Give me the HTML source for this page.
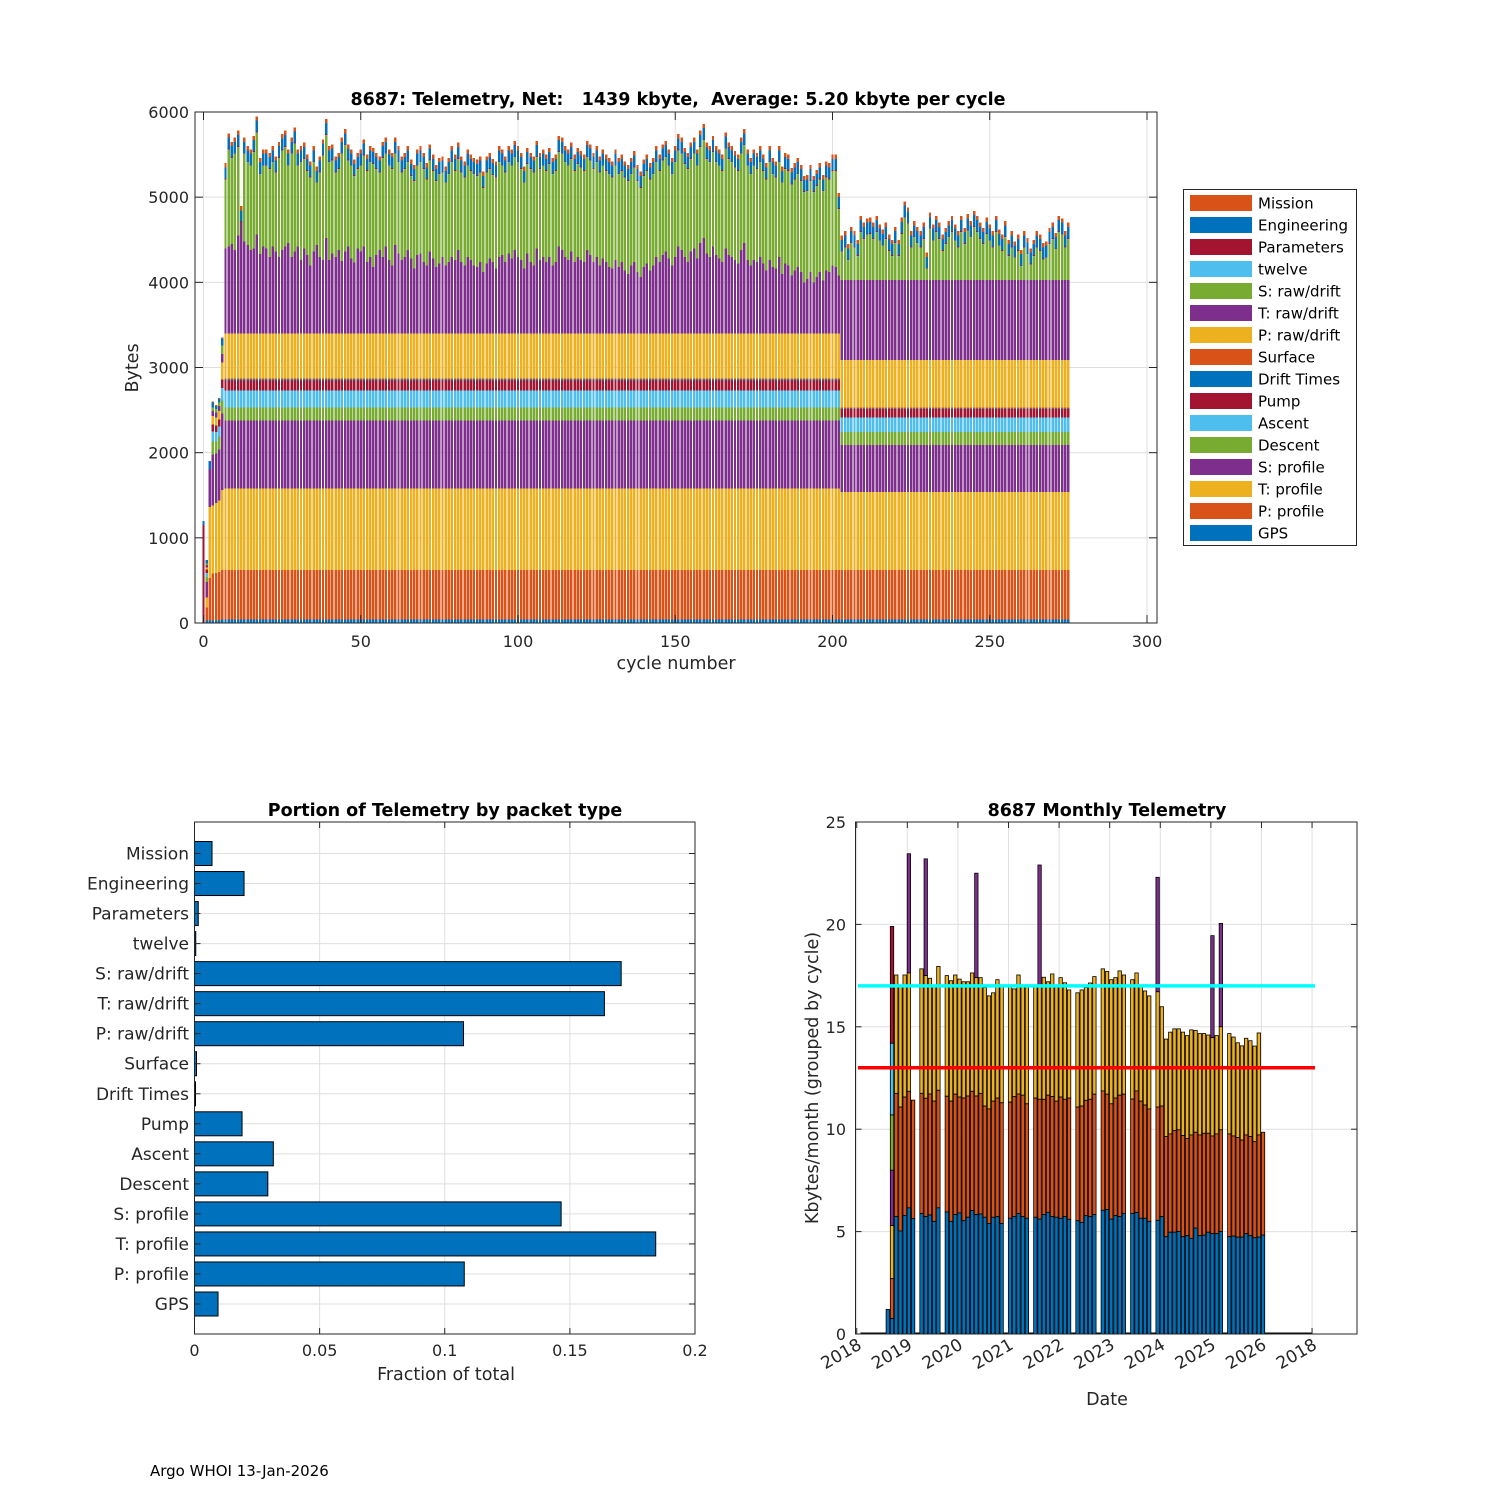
<!DOCTYPE html>
<html><head><meta charset="utf-8">
<style>
html,body{margin:0;padding:0;background:#fff;}
svg{display:block;font-family:"DejaVu Sans","Liberation Sans",sans-serif;}
.pre{white-space:pre;}
</style></head>
<body>
<svg id="fig" width="1500" height="1500" viewBox="0 0 1500 1500" xmlns="http://www.w3.org/2000/svg">
<rect x="0" y="0" width="1500" height="1500" fill="#fff"/>
<g id="top"></g>
<g id="hbar"></g>
<g id="month"></g>
<text x="150" y="1476" font-size="15" fill="#000">Argo WHOI 13-Jan-2026</text>
</svg>
<script>
// ---------- TOP CHART DATA ----------
const layerNames = ["GPS","P: profile","T: profile","S: profile","Descent","Ascent","Pump","Drift Times","Surface","P: raw/drift","T: raw/drift","S: raw/drift","twelve","Parameters","Engineering","Mission"];
const earlyLayers = [
 [0,0,0,0,0,0,1150,0,0,0,0,0,0,0,50,0],
 [30,150,120,180,60,50,40,0,0,20,30,20,0,0,40,0],
 [30,500,830,450,0,0,0,0,0,0,0,0,0,0,90,0],
 [30,550,800,600,150,120,80,0,0,100,60,40,0,0,60,10],
 [30,560,820,580,140,110,80,0,0,90,60,40,0,0,40,10],
 [30,570,840,600,150,120,80,0,0,100,60,40,0,0,40,10],
 [40,580,940,900,150,150,100,0,0,200,100,100,0,0,80,10]
];
const eraALayers = [40,580,960,800,150,200,120,10,10,530,900,null,5,10,130,50];
const eraBLayers = [40,580,920,550,155,170,95,10,10,560,940,null,5,10,130,50];
const eraATotals = [5400,5750,5650,
5700,5780,4850,5700,5600,5560,5720,5950,5460,5560,
5560,5520,5600,5480,5650,5740,5780,5560,5700,5820,
5560,5600,5640,5500,5420,5600,5360,5480,5680,5920,
5600,5620,5480,5520,5700,5800,5620,5560,5440,5520,
5560,5680,5500,5600,5580,5520,5480,5650,5700,5560,
5520,5700,5600,5480,5520,5600,5440,5380,5560,5600,
5520,5400,5620,5500,5380,5460,5480,5360,5460,5600,
5500,5640,5480,5420,5560,5500,5460,5440,5480,5300,
5480,5520,5450,5420,5600,5560,5480,5600,5560,5660,
5600,5520,5360,5580,5520,5480,5660,5520,5560,5500,
5580,5460,5500,5720,5700,5600,5560,5640,5500,5580,
5540,5500,5660,5620,5520,5600,5480,5560,5500,5460,
5420,5560,5460,5500,5420,5380,5460,5540,5380,5300,
5440,5500,5400,5460,5600,5500,5620,5660,5560,5460,
5600,5740,5700,5580,5520,5640,5700,5560,5780,5860,
5640,5600,5720,5600,5560,5500,5760,5640,5600,5540,
5500,5700,5800,5560,5460,5560,5520,5600,5500,5400,
5600,5460,5420,5600,5360,5520,5500,5340,5400,5460,
5380,5250,5260,5380,5250,5320,5400,5260,5420,5400,
5500,5500,5050];
// top of T: raw/drift layer (bottom of S: raw/drift), era A
const eraATRawTop = [4400,4420,4450,
4380,4550,4700,4480,4440,4380,4400,4560,4330,4420,
4400,4300,4420,4360,4300,4380,4420,4460,4300,4360,
4420,4260,4400,4320,4200,4360,4440,4300,4260,4520,
4260,4340,4300,4380,4250,4360,4420,4280,4230,4400,
4360,4420,4240,4300,4180,4320,4380,4300,4420,4260,
4200,4440,4340,4260,4300,4380,4280,4160,4320,4340,
4240,4200,4360,4280,4180,4220,4300,4200,4240,4300,
4260,4380,4240,4200,4300,4260,4200,4180,4240,4120,
4220,4280,4240,4160,4300,4320,4240,4340,4280,4380,
4300,4260,4160,4340,4240,4200,4400,4260,4300,4240,
4300,4200,4240,4420,4380,4300,4260,4360,4240,4300,
4260,4240,4380,4320,4240,4300,4200,4280,4240,4180,
4160,4260,4180,4240,4140,4100,4200,4240,4120,4060,
4180,4220,4140,4200,4300,4240,4320,4360,4280,4200,
4300,4420,4380,4300,4240,4360,4400,4280,4460,4520,
4340,4300,4420,4320,4280,4240,4400,4320,4300,4260,
4220,4380,4460,4260,4200,4260,4240,4300,4220,4140,
4260,4180,4160,4300,4100,4220,4200,4080,4140,4180,
4120,4000,4040,4120,4000,4060,4120,4020,4140,4120,
4200,4180,4080];
const eraBTotals = [4550,4600,4450,4650,4600,4500,4780,4700,
4750,4760,4700,4780,4680,4620,4700,4560,4500,4650,
4500,4760,4950,4880,4600,4720,4650,4600,4700,4350,
4820,4680,4780,4700,4560,4640,4720,4780,4680,4600,
4780,4640,4800,4720,4840,4780,4700,4640,4760,4680,
4600,4780,4620,4560,4720,4500,4600,4480,4560,4380,
4600,4520,4400,4500,4600,4560,4460,4480,4640,4700,
4580,4780,4750,4600,4700];
const topXTicks = [0,50,100,150,200,250,300];
const topYTicks = [0,1000,2000,3000,4000,5000,6000];

// ---------- HBAR DATA ----------
const hbarCats = ["Mission","Engineering","Parameters","twelve","S: raw/drift","T: raw/drift","P: raw/drift","Surface","Drift Times","Pump","Ascent","Descent","S: profile","T: profile","P: profile","GPS"];
const hbarVals = [0.007,0.0198,0.0015,0.0005,0.1705,0.1638,0.1075,0.0008,0.0004,0.0190,0.0315,0.0293,0.1465,0.1843,0.1078,0.0094];
const hbarXTicks = [0,0.05,0.1,0.15,0.2];
const hbarXLabels = ["0","0.05","0.1","0.15","0.2"];

// ---------- MONTHLY DATA ----------
const mBlue   = [1.2,0.75,5.73,5.03,5.78,6.16,5.63,0,5.88,5.73,5.81,5.50,6.16,0,5.96,5.50,5.83,5.91,5.53,5.70,6.03,5.83,5.86,5.70,5.40,5.70,5.73,5.40,0,5.65,5.73,5.89,5.73,5.65,0,5.70,5.61,5.83,5.94,5.73,5.70,5.65,5.73,5.60,0,5.53,5.45,5.78,5.73,5.83,0,6.04,6.08,5.61,5.78,5.73,5.89,0,5.89,5.93,5.65,5.65,5.50,0,5.55,5.73,4.75,4.97,4.97,5.00,4.75,4.80,4.67,5.17,4.80,4.83,4.97,4.90,4.90,5.00,0,4.75,4.78,4.73,4.73,4.90,4.80,4.70,4.73,4.83];
const mOrange = [1.2,2.7,11.75,11.08,11.57,11.85,11.42,0,11.75,11.51,11.72,11.37,11.90,0,11.61,11.37,11.71,11.57,11.52,11.62,11.85,11.62,11.75,11.13,10.99,11.37,11.52,11.29,0,11.32,11.59,11.72,11.66,11.24,0,11.52,11.46,11.46,11.66,11.59,11.37,11.57,11.46,11.52,0,11.08,11.13,11.41,11.46,11.71,0,11.87,11.71,11.24,11.52,11.66,11.71,0,11.47,11.87,11.37,11.18,10.99,0,11.08,11.13,9.64,9.77,9.93,9.97,9.69,9.55,9.72,9.85,9.72,9.80,9.80,9.67,9.77,9.97,0,9.77,9.67,9.59,9.47,9.72,9.64,9.39,9.72,9.85];
const mYellow = [1.2,5.3,17.53,17.04,17.53,17.63,11.42,0,17.83,17.50,17.37,17.04,17.95,0,17.50,17.25,17.53,17.33,17.20,17.20,17.63,17.40,17.40,16.92,16.51,16.66,17.30,17.04,0,17.04,16.85,17.53,17.04,17.04,0,17.04,17.04,17.42,17.20,17.58,17.04,17.40,17.15,16.80,0,16.66,16.80,16.92,17.14,17.45,0,17.83,17.70,17.30,17.40,17.73,17.53,0,17.30,17.63,16.97,16.75,16.51,0,16.71,15.98,14.40,14.74,14.90,14.90,14.74,14.57,14.85,14.82,14.67,14.67,14.60,14.47,14.57,15.00,0,14.67,14.50,14.22,14.07,14.44,14.32,14.06,14.70,9.85];
const mPurpleSpikeIdx = [5,9,21,36,64,77,79];
const mPurpleSpikeTop = [23.45,23.2,22.5,22.9,22.3,19.45,20.05];
const mFirstExtraTops = [8.0,10.7,14.2,19.9];
const mYTicks = [0,5,10,15,20,25];
const mXTickLabels = ["2018","2019","2020","2021","2022","2023","2024","2025","2026","2018"];
const mXTickMonth = [-7.37,4.63,16.63,28.63,40.63,52.63,64.63,76.63,88.63,100.63];
const lineCyan = 17, lineRed = 13;

// ---------- helpers ----------
const NS="http://www.w3.org/2000/svg";
const C={B:"#0072BD",O:"#D95319",Y:"#EDB120",P:"#7E2F8E",G:"#77AC30",Cy:"#4DBEEE",R:"#A2142F"};
const layerColors=[C.B,C.O,C.Y,C.P,C.G,C.Cy,C.R,C.B,C.O,C.Y,C.P,C.G,C.Cy,C.R,C.B,C.O];
function mk(parent,tag,attrs){const e=document.createElementNS(NS,tag);for(const k in attrs)e.setAttribute(k,attrs[k]);parent.appendChild(e);return e;}
function txt(parent,x,y,s,attrs){const e=mk(parent,"text",Object.assign({x:x,y:y,fill:"#262626"},attrs||{}));e.textContent=s;return e;}

// ---------- TOP CHART ----------
(function(){
const g=document.getElementById("top");
const L=195,R=1157,T=112,B=623;
const xs=c=>203.5+(c)*3.145;
const ys=v=>B-v*(B-T)/6000;
topXTicks.forEach(t=>{const l=mk(g,"line",{x1:xs(t),x2:xs(t),y1:T,y2:B,stroke:"#dfdfdf","stroke-width":1});

});
topYTicks.forEach(t=>{const l=mk(g,"line",{x1:L,x2:R,y1:ys(t),y2:ys(t),stroke:"#dfdfdf","stroke-width":1});

});
const bars=mk(g,"g",{"shape-rendering":"crispEdges"});


const w=0.78*3.145;
function drawStack(c,segs){let acc=0;segs.forEach((v,k)=>{if(v>0){const r=mk(bars,"rect",{x:xs(c)-w/2,y:ys(acc+v),width:w,height:ys(acc)-ys(acc+v),fill:layerColors[k]});

}acc+=v;});}
earlyLayers.forEach((segs,c)=>drawStack(c,segs));
function fill(base,total,tTop){const s=base.slice();
 if(tTop!==undefined){let below=0;for(let k=0;k<10;k++)below+=s[k];s[10]=Math.max(0,tTop-below);}
 const other=s.reduce((a,b)=>a+(b||0),0);s[11]=Math.max(0,total-other);return s;}
eraATotals.forEach((t,i)=>drawStack(7+i,fill(eraALayers,t,eraATRawTop[i])));
eraBTotals.forEach((t,i)=>drawStack(7+eraATotals.length+i,fill(eraBLayers,t)));
const box=mk(g,"rect",{x:L,y:T,width:R-L,height:B-T,fill:"none",stroke:"#262626","stroke-width":1});


topXTicks.forEach(t=>{mk(g,"line",{x1:xs(t),x2:xs(t),y1:B,y2:B-8,stroke:"#262626"});mk(g,"line",{x1:xs(t),x2:xs(t),y1:T,y2:T+8,stroke:"#262626"});
const e=txt(g,xs(t),647,String(t),{"font-size":16,"text-anchor":"middle"});

});
topYTicks.forEach(t=>{mk(g,"line",{x1:L,x2:L+8,y1:ys(t),y2:ys(t),stroke:"#262626"});mk(g,"line",{x1:R,x2:R-8,y1:ys(t),y2:ys(t),stroke:"#262626"});
const e=txt(g,189,ys(t)+6,String(t),{"font-size":16,"text-anchor":"end"});

});
const tt=txt(g,678,105,"8687: Telemetry, Net:   1439 kbyte,  Average: 5.20 kbyte per cycle",{"font-size":17.5,"font-weight":"bold","text-anchor":"middle",fill:"#000","class":"pre"});


const xl=txt(g,676,669,"cycle number",{"font-size":17.5,"text-anchor":"middle"});


const yl=txt(g,0,0,"Bytes",{"font-size":17.5,"text-anchor":"middle",transform:"translate(138,368) rotate(-90)"});


const lg=mk(g,"g",{});


mk(lg,"rect",{x:1183.5,y:189.5,width:173,height:356,fill:"#fff",stroke:"#262626","stroke-width":1});
for(let k=15;k>=0;k--){const row=15-k;const y=195+row*22;
const sw=mk(lg,"rect",{x:1190,y:y,width:62,height:16,fill:layerColors[k]});


const e=txt(lg,1258,y+13.5,layerNames[k],{"font-size":15,fill:"#000"});

}
})();

// ---------- HBAR CHART ----------
(function(){
const g=document.getElementById("hbar");
const L=194.5,R=695,T=822,B=1334;
const xs=v=>L+v*(R-L)/0.2;
hbarXTicks.forEach(t=>{const l=mk(g,"line",{x1:xs(t),x2:xs(t),y1:T,y2:B,stroke:"#dfdfdf"});

});
const pos=i=>T+31.5+i*((1304-853.5)/15);
hbarCats.forEach((c,i)=>{const l=mk(g,"line",{x1:L,x2:R,y1:pos(i),y2:pos(i),stroke:"#dfdfdf"});

});
hbarVals.forEach((v,i)=>{const r=mk(g,"rect",{x:L,y:pos(i)-12,width:Math.max(0.5,xs(v)-L),height:24,fill:C.B,stroke:"#000","stroke-width":1});

});
const box=mk(g,"rect",{x:L,y:T,width:R-L,height:B-T,fill:"none",stroke:"#262626"});


hbarCats.forEach((c,i)=>{mk(g,"line",{x1:L,x2:L+6,y1:pos(i),y2:pos(i),stroke:"#262626"});mk(g,"line",{x1:R,x2:R-6,y1:pos(i),y2:pos(i),stroke:"#262626"});
const e=txt(g,189,pos(i)+6,c,{"font-size":17,"text-anchor":"end"});

});
hbarXTicks.forEach((t,i)=>{mk(g,"line",{x1:xs(t),x2:xs(t),y1:B,y2:B-6,stroke:"#262626"});mk(g,"line",{x1:xs(t),x2:xs(t),y1:T,y2:T+6,stroke:"#262626"});
const e=txt(g,xs(t),1356,hbarXLabels[i],{"font-size":16,"text-anchor":"middle"});

});
const tt=txt(g,445,816,"Portion of Telemetry by packet type",{"font-size":17.5,"font-weight":"bold","text-anchor":"middle",fill:"#000"});


const xl=txt(g,446,1380,"Fraction of total",{"font-size":17.5,"text-anchor":"middle"});


})();

// ---------- MONTHLY CHART ----------
(function(){
const g=document.getElementById("month");
const L=855.5,R=1357,T=822,B=1334;
const xs=i=>887.8+4.216*i;
const ys=v=>B-v*(B-T)/25;
mXTickMonth.forEach(m=>{const l=mk(g,"line",{x1:xs(m),x2:xs(m),y1:T,y2:B,stroke:"#dfdfdf"});

});
mYTicks.forEach(t=>{const l=mk(g,"line",{x1:L,x2:R,y1:ys(t),y2:ys(t),stroke:"#dfdfdf"});

});
const bw=3.4;
const base=mk(g,"line",{x1:xs(-6.5),x2:xs(100.5),y1:B-0.5,y2:B-0.5,stroke:"#000","stroke-width":2});


function seg(i,lo,hi,col){if(hi-lo<=0)return;const r=mk(g,"rect",{x:xs(i)-bw/2,y:ys(hi),width:bw,height:ys(lo)-ys(hi),fill:col,stroke:"#000","stroke-width":0.8});

}
mBlue.forEach((b,i)=>{
 const sp=mPurpleSpikeIdx.indexOf(i);
 if(sp>=0) seg(i,mYellow[i],mPurpleSpikeTop[sp],C.P);
 seg(i,mOrange[i],mYellow[i],C.Y);
 seg(i,b,mOrange[i],C.O);
 seg(i,0,b,C.B);
});
const exCols=[C.P,C.G,C.Cy,C.R];
let lo=mYellow[1];
mFirstExtraTops.forEach((t,k)=>{seg(1,lo,t,exCols[k]);lo=t;});
const lc=mk(g,"line",{x1:858,x2:1315,y1:ys(lineCyan),y2:ys(lineCyan),stroke:"#00FFFF","stroke-width":3.5});


const lr=mk(g,"line",{x1:858,x2:1315,y1:ys(lineRed),y2:ys(lineRed),stroke:"#FF0000","stroke-width":3.5});


const box=mk(g,"rect",{x:L,y:T,width:R-L,height:B-T,fill:"none",stroke:"#262626"});


mYTicks.forEach(t=>{mk(g,"line",{x1:L,x2:L+6,y1:ys(t),y2:ys(t),stroke:"#262626"});mk(g,"line",{x1:R,x2:R-6,y1:ys(t),y2:ys(t),stroke:"#262626"});
const e=txt(g,846,ys(t)+6,String(t),{"font-size":16,"text-anchor":"end"});

});
mXTickMonth.forEach((m,i)=>{mk(g,"line",{x1:xs(m),x2:xs(m),y1:B,y2:B-6,stroke:"#262626"});mk(g,"line",{x1:xs(m),x2:xs(m),y1:T,y2:T+6,stroke:"#262626"});
const e=txt(g,0,0,mXTickLabels[i],{"font-size":17,"text-anchor":"end",transform:"translate("+(xs(m)+6)+",1348) rotate(-30)"});

});
const tt=txt(g,1107,816,"8687 Monthly Telemetry",{"font-size":17.5,"font-weight":"bold","text-anchor":"middle",fill:"#000"});


const xl=txt(g,1107,1405,"Date",{"font-size":17.5,"text-anchor":"middle"});


const yl=txt(g,0,0,"Kbytes/month (grouped by cycle)",{"font-size":17.5,"text-anchor":"middle",transform:"translate(818,1078) rotate(-90)"});


})();
</script>
</body></html>
